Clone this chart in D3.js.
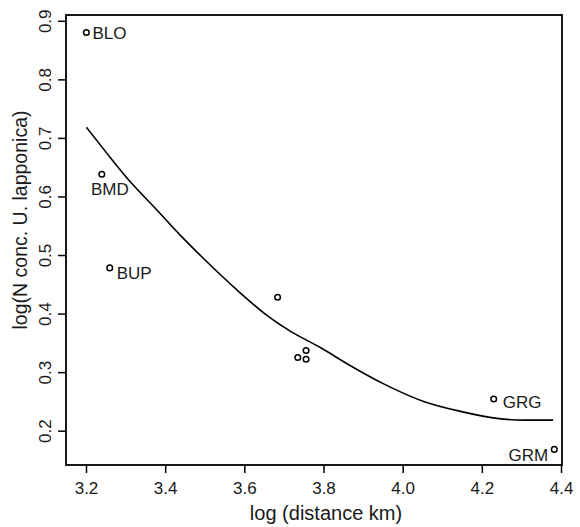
<!DOCTYPE html>
<html>
<head>
<meta charset="utf-8">
<script src="https://cdn.jsdelivr.net/npm/d3@7"></script>
<style>
  body { margin: 0; background: #fff; }
  text { font-family: "Liberation Sans", Arial, sans-serif; fill: #1a1a1a; }
</style>
</head>
<body>
<div id="chart"></div>
<script>
// site points
const siteNames = ["BLO", "BMD", "BUP", "", "", "", "", "GRG", "GRM"];
const logDist = [3.201, 3.240, 3.260, 3.684, 3.735, 3.756, 3.756, 4.230, 4.383];
const logConc = [0.880, 0.638, 0.478, 0.428, 0.325, 0.337, 0.322, 0.254, 0.168];

// fitted curve
const fitX = [3.201, 3.249, 3.312, 3.379, 3.438, 3.497, 3.582, 3.657, 3.716, 3.792, 3.868, 3.952, 4.053, 4.146, 4.238, 4.306, 4.380];
const fitY = [0.718, 0.677, 0.625, 0.577, 0.534, 0.494, 0.440, 0.397, 0.370, 0.342, 0.311, 0.280, 0.250, 0.233, 0.221, 0.218, 0.218];

const xTicks = [3.2, 3.4, 3.6, 3.8, 4.0, 4.2, 4.4];
const yTicks = [0.2, 0.3, 0.4, 0.5, 0.6, 0.7, 0.8, 0.9];

const W = 580, H = 527;
const box = {left: 66, top: 15, right: 562, bottom: 465};

// where each label sits relative to its point (dx, dy, anchor)
const labelPos = {
  BLO: [6, 6, "start"],
  BMD: [8, 21, "middle"],
  BUP: [7, 11, "start"],
  GRG: [9, 9, "start"],
  GRM: [-6, 12, "end"]
};

const svg = d3.select("#chart").append("svg")
  .attr("width", W)
  .attr("height", H);

const x = d3.scaleLinear().domain([3.1495, 4.4025]).range([box.left, box.right]);
const y = d3.scaleLinear().domain([0.1414, 0.9099]).range([box.bottom, box.top]);

// frame
svg.append("rect")
  .attr("x", box.left)
  .attr("y", box.top)
  .attr("width", box.right - box.left)
  .attr("height", box.bottom - box.top)
  .attr("fill", "none")
  .attr("stroke", "#000")
  .attr("stroke-width", 1.8);

// x axis
const xAxis = svg.append("g")
  .attr("transform", `translate(0,${box.bottom})`)
  .call(d3.axisBottom(x).tickValues(xTicks).tickSize(8).tickSizeOuter(0).tickFormat(d3.format(".1f")));
xAxis.select(".domain").remove();
xAxis.selectAll("line").attr("stroke", "#000").attr("stroke-width", 1.5);
xAxis.selectAll("text")
  .attr("y", 29)
  .attr("dy", null)
  .style("font-size", "17px")
  .style("font-family", "Liberation Sans, Arial, sans-serif")
  .attr("fill", "#1a1a1a");

// y axis, labels turned like the R default
const yAxis = svg.append("g")
  .attr("transform", `translate(${box.left},0)`)
  .call(d3.axisLeft(y).tickValues(yTicks).tickSize(8).tickSizeOuter(0).tickFormat(d3.format(".1f")));
yAxis.select(".domain").remove();
yAxis.selectAll("line").attr("stroke", "#000").attr("stroke-width", 1.5);
yAxis.selectAll("text")
  .attr("x", 0)
  .attr("y", 0)
  .attr("dy", null)
  .attr("text-anchor", "middle")
  .attr("transform", `translate(${51 - box.left},0) rotate(-90)`)
  .style("font-size", "17px")
  .style("font-family", "Liberation Sans, Arial, sans-serif")
  .attr("fill", "#1a1a1a");

// axis titles
svg.append("text")
  .attr("x", 326)
  .attr("y", 520)
  .attr("text-anchor", "middle")
  .style("font-size", "20px")
  .text("log (distance km)");

svg.append("text")
  .attr("transform", `translate(27,220) rotate(-90)`)
  .attr("text-anchor", "middle")
  .style("font-size", "19.5px")
  .text("log(N conc. U. lapponica)");

// fitted curve
const line = d3.line()
  .x((d, i) => x(fitX[i]))
  .y(d => y(d))
  .curve(d3.curveMonotoneX);

svg.append("path")
  .datum(fitY)
  .attr("d", line)
  .attr("fill", "none")
  .attr("stroke", "#000")
  .attr("stroke-width", 1.6);

// points
const idx = d3.range(logDist.length);
svg.selectAll("circle.pt")
  .data(idx)
  .join("circle")
  .attr("class", "pt")
  .attr("cx", i => x(logDist[i]))
  .attr("cy", i => y(logConc[i]))
  .attr("r", 2.8)
  .attr("fill", "none")
  .attr("stroke", "#000")
  .attr("stroke-width", 1.5);

svg.selectAll("text.site")
  .data(idx.filter(i => siteNames[i]))
  .join("text")
  .attr("class", "site")
  .attr("x", i => x(logDist[i]) + labelPos[siteNames[i]][0])
  .attr("y", i => y(logConc[i]) + labelPos[siteNames[i]][1])
  .attr("text-anchor", i => labelPos[siteNames[i]][2])
  .style("font-size", "17px")
  .text(i => siteNames[i]);
</script>
</body>
</html>
